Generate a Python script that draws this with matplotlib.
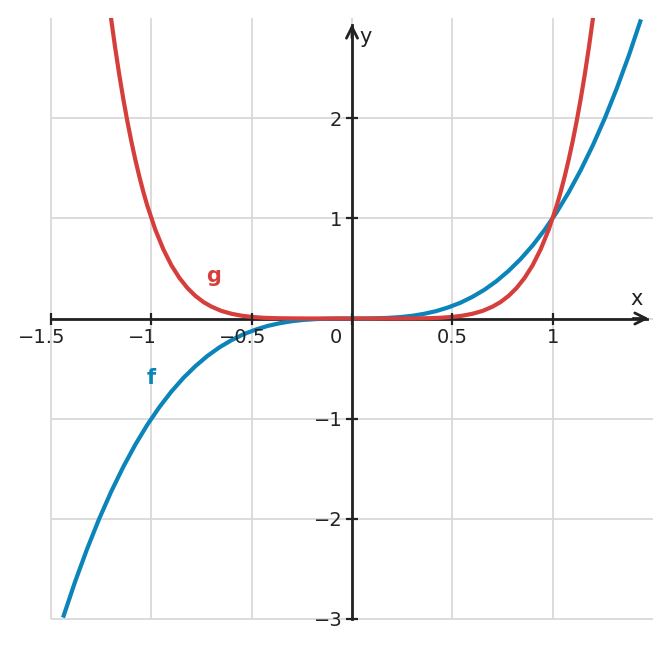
import numpy as np
import matplotlib
matplotlib.use("Agg")
import matplotlib.pyplot as plt
from matplotlib.transforms import ScaledTranslation

##########################################
# values
f_x = [-1.44, -1.38, -1.32, -1.26, -1.20, -1.14, -1.08, -1.02, -0.96, -0.90,
       -0.84, -0.78, -0.72, -0.66, -0.60, -0.54, -0.48, -0.42, -0.36, -0.30,
       -0.24, -0.18, -0.12, -0.06, 0.0,
       0.06, 0.12, 0.18, 0.24, 0.30, 0.36, 0.42, 0.48, 0.54, 0.60,
       0.66, 0.72, 0.78, 0.84, 0.90, 0.96, 1.02, 1.08, 1.14, 1.20,
       1.26, 1.32, 1.38, 1.44]
f_y = [-2.986, -2.628, -2.300, -2.000, -1.728, -1.482, -1.260, -1.061, -0.885, -0.729,
       -0.593, -0.475, -0.373, -0.287, -0.216, -0.157, -0.111, -0.074, -0.047, -0.027,
       -0.014, -0.006, -0.002, 0.000, 0.0,
       0.000, 0.002, 0.006, 0.014, 0.027, 0.047, 0.074, 0.111, 0.157, 0.216,
       0.287, 0.373, 0.475, 0.593, 0.729, 0.885, 1.061, 1.260, 1.482, 1.728,
       2.000, 2.300, 2.628, 2.986]

g_x = [-1.22, -1.20, -1.18, -1.16, -1.14, -1.12, -1.10, -1.08, -1.06, -1.04,
       -1.02, -0.98, -0.94, -0.90, -0.86,
       -0.82, -0.78, -0.74, -0.70, -0.65, -0.60, -0.55, -0.50, -0.44, -0.38,
       -0.30, -0.20, -0.10, 0.0,
       0.10, 0.20, 0.30, 0.38, 0.44, 0.50, 0.55, 0.60, 0.65, 0.70,
       0.74, 0.78, 0.82, 0.86, 0.90, 0.94, 0.98, 1.02, 1.04, 1.06, 1.08, 1.10,
       1.12, 1.14, 1.16, 1.18, 1.20, 1.22]
g_y = [3.297, 2.986, 2.700, 2.436, 2.195, 1.974, 1.772, 1.587, 1.419, 1.265,
       1.126, 0.886, 0.690, 0.531, 0.405,
       0.304, 0.225, 0.164, 0.118, 0.075, 0.047, 0.028, 0.016, 0.007, 0.003,
       0.001, 0.000, 0.000, 0.0,
       0.000, 0.000, 0.001, 0.003, 0.007, 0.016, 0.028, 0.047, 0.075, 0.118,
       0.164, 0.225, 0.304, 0.405, 0.531, 0.690, 0.886, 1.126, 1.265, 1.419, 1.587, 1.772,
       1.974, 2.195, 2.436, 2.700, 2.986, 3.297]

x_ticks = [-1.5, -1, -0.5, 0, 0.5, 1]
x_labels = ['\u22121.5', '\u22121', '\u22120.5', '0', '0.5', '1']
y_ticks = [-3, -2, -1, 1, 2]
y_labels = ['\u22123', '\u22122', '\u22121', '1', '2']
##########################################

ink = '#222222'
blue = '#0b84b9'
red = '#d53e3b'
plt.rcParams['font.family'] = ['DejaVu Sans']

fig = plt.figure(figsize=(6.71, 6.48), dpi=100)
ax = fig.add_axes([51/671, 29/648, 602/671, 601/648])
ax.set_xlim(-1.5, 1.5)
ax.set_ylim(-3, 3)

# grid
ax.vlines(x_ticks, -3, 3, color='#d9d9d9', lw=1.3, zorder=0.5, clip_on=False)
ax.hlines(y_ticks + [0], -1.5, 1.5, color='#d9d9d9', lw=1.3, zorder=0.5, clip_on=False)

# axes through the origin
for s in ['top', 'right']:
    ax.spines[s].set_visible(False)
ax.spines['bottom'].set_position(('data', 0))
ax.spines['left'].set_position(('data', 0))
ax.spines['bottom'].set_bounds(-1.5, 1.47)
ax.spines['left'].set_bounds(-3, 2.93)
for s in ['bottom', 'left']:
    ax.spines[s].set_color(ink)
    ax.spines[s].set_linewidth(2.0)
ax.spines['bottom'].set_zorder(1.9)
ax.spines['left'].set_zorder(3)

ax.annotate('', xy=(1.48, 0), xytext=(1.40, 0), zorder=3,
            arrowprops=dict(arrowstyle='->', lw=2.0, color=ink, mutation_scale=20,
                            shrinkA=0, shrinkB=0))
ax.annotate('', xy=(0, 2.94), xytext=(0, 2.8), zorder=3,
            arrowprops=dict(arrowstyle='->', lw=2.0, color=ink, mutation_scale=20,
                            shrinkA=0, shrinkB=0))

ax.set_xticks(x_ticks)
ax.set_xticklabels(x_labels)
ax.set_yticks(y_ticks)
ax.set_yticklabels(y_labels)
ax.tick_params(direction='inout', length=8, width=1.6, colors=ink,
               labelsize=14, pad=3)
ax.xaxis.set_zorder(3)
ax.yaxis.set_zorder(3)

# shift negative labels and the origin label to the left like the reference
for lab, txt in zip(ax.get_xticklabels(), x_labels):
    dx = 0
    if txt.startswith('\u2212'):
        dx = -9
    elif txt == '0':
        dx = -16
    lab.set_transform(lab.get_transform() + ScaledTranslation(dx/100, 0, fig.dpi_scale_trans))

# curves
ax.plot(f_x, f_y, color=blue, lw=3, zorder=2.2, solid_capstyle='butt')
ax.plot(g_x, g_y, color=red, lw=3, zorder=2.3, solid_capstyle='butt')

ax.text(-1.0, -0.59, 'f', color=blue, fontsize=15, fontweight='bold', ha='center', va='center')
ax.text(-0.69, 0.42, 'g', color=red, fontsize=15, fontweight='bold', ha='center', va='center')
ax.text(1.42, 0.19, 'x', color=ink, fontsize=15, ha='center', va='center')
ax.text(0.07, 2.81, 'y', color=ink, fontsize=15, ha='center', va='center')

fig.savefig('out.png', dpi=100)
